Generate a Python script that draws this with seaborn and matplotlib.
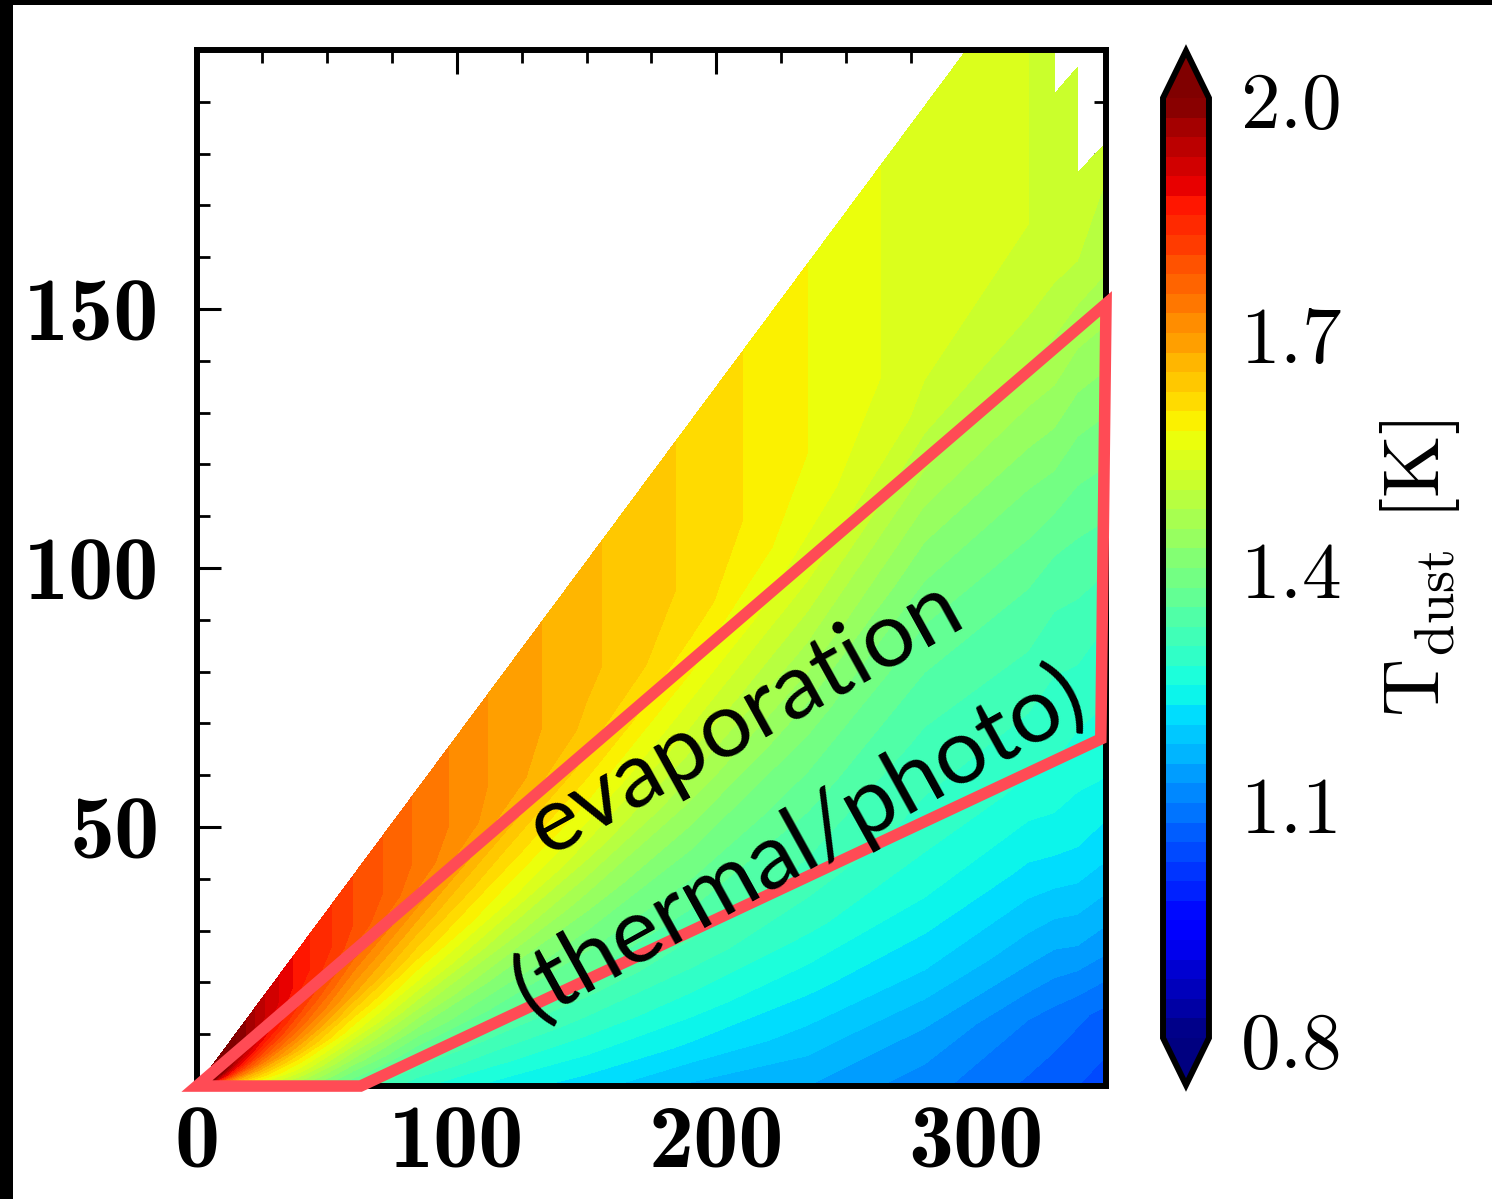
import numpy as np
import matplotlib
matplotlib.use("Agg")
import matplotlib.pyplot as plt
import seaborn as sns
from matplotlib.patches import Polygon, Rectangle
from matplotlib.ticker import MultipleLocator, FixedLocator, FuncFormatter

# ---- model grid: cylindrical radius R and opening z/R ----
R = [1, 4, 8, 15, 25, 40, 60, 85, 115, 150, 190, 235, 280, 320, 330, 339, 348, 360]
ZR = [0.0, 0.04, 0.08, 0.13, 0.18, 0.24, 0.30, 0.36, 0.42, 0.47, 0.52, 0.58, 0.63, 0.675]

nan = np.nan
# log10 dust temperature, one list per R column, z/R increasing
T_COLUMNS = [
    [2.05, 2.08, 2.10, 2.12, 2.14, 2.15, 2.15, 2.15, 2.15, 2.15, 2.15, 2.15, 2.15, 2.15],
    [1.75, 1.85, 1.95, 2.03, 2.08, 2.10, 2.10, 2.10, 2.10, 2.10, 2.10, 2.10, 2.10, 2.10],
    [1.62, 1.70, 1.78, 1.86, 1.93, 1.99, 2.03, 2.05, 2.06, 2.06, 2.06, 2.06, 2.06, 2.06],
    [1.57, 1.62, 1.68, 1.75, 1.82, 1.88, 1.93, 1.96, 1.98, 1.99, 2.00, 2.00, 2.00, 2.00],
    [1.52, 1.56, 1.61, 1.67, 1.73, 1.79, 1.84, 1.88, 1.90, 1.92, 1.93, 1.93, 1.93, 1.93],
    [1.44, 1.49, 1.54, 1.59, 1.65, 1.71, 1.76, 1.80, 1.83, 1.85, 1.86, 1.86, 1.86, 1.86],
    [1.35, 1.39, 1.44, 1.50, 1.56, 1.62, 1.68, 1.72, 1.76, 1.79, 1.80, 1.80, 1.80, 1.80],
    [1.28, 1.32, 1.36, 1.42, 1.48, 1.55, 1.61, 1.66, 1.71, 1.735, 1.745, 1.745, 1.745, 1.745],
    [1.24, 1.28, 1.32, 1.37, 1.42, 1.49, 1.56, 1.61, 1.66, 1.69, 1.695, 1.695, 1.695, 1.695],
    [1.21, 1.25, 1.29, 1.34, 1.38, 1.44, 1.51, 1.57, 1.62, 1.645, 1.655, 1.655, 1.655, 1.655],
    [1.17, 1.22, 1.26, 1.31, 1.35, 1.40, 1.46, 1.52, 1.575, 1.61, 1.62, 1.62, 1.62, 1.62],
    [1.15, 1.19, 1.23, 1.28, 1.32, 1.36, 1.41, 1.47, 1.53, 1.56, 1.575, 1.575, 1.575, 1.575],
    [1.11, 1.15, 1.20, 1.25, 1.29, 1.32, 1.36, 1.41, 1.47, 1.52, 1.535, 1.535, 1.535, 1.535],
    [1.07, 1.10, 1.16, 1.22, 1.27, 1.31, 1.35, 1.40, 1.46, 1.505, 1.525, 1.525, 1.525, 1.525],
    [1.06, 1.09, 1.15, 1.22, 1.27, 1.30, 1.34, 1.40, 1.46, 1.50, 1.515, 1.515, 1.515, 1.515],
    [1.05, 1.08, 1.15, 1.22, 1.26, 1.30, 1.34, 1.39, 1.45, 1.50, 1.51, 1.51, nan, nan],
    [1.04, 1.07, 1.14, 1.21, 1.26, 1.29, 1.34, 1.39, 1.45, 1.495, 1.505, nan, nan, nan],
    [1.03, 1.06, 1.13, 1.21, 1.25, 1.29, 1.33, 1.38, 1.44, 1.49, 1.50, nan, nan, nan],
]

# outline of the evaporation region (R, z)
ZONE_R = [0, 63, 348, 350]
ZONE_Z = [0, 0, 67, 151]

CBAR_TICKS = [0.8, 1.1, 1.4, 1.7, 2.0]
X_TICKS = [0, 100, 200, 300]
Y_TICKS = [50, 100, 150]
ZONE_TEXT = ["evaporation", "(thermal/photo)"]

# ---- style ----
sns.set_style("white")
plt.rcParams["mathtext.fontset"] = "cm"
plt.rcParams["font.family"] = ["DejaVu Sans"]
plt.rcParams["axes.edgecolor"] = "black"
plt.rcParams["text.color"] = "black"
plt.rcParams["axes.labelcolor"] = "black"
plt.rcParams["xtick.color"] = "black"
plt.rcParams["ytick.color"] = "black"

cmap = matplotlib.colormaps["jet"]
levels = np.linspace(0.8, 2.0, 49)

fig = plt.figure(figsize=(14.92, 11.99), dpi=100)
ax = fig.add_axes([0.1320, 0.0942, 0.6093, 0.8641])

Rg, ZRg = np.meshgrid(np.array(R, float), np.array(ZR, float))
Zg = Rg * ZRg
T = np.ma.masked_invalid(np.array(T_COLUMNS, float).T)

cf = ax.contourf(Rg, Zg, T, levels=levels, cmap=cmap, extend="both",
                 corner_mask=False, antialiased=False)

ax.set_xlim(0, 350)
ax.set_ylim(0, 200)

# evaporation zone outline
zone = Polygon(np.column_stack([ZONE_R, ZONE_Z]), closed=True, fill=False,
               edgecolor="#ff4b55", linewidth=8.3, joinstyle="miter",
               clip_on=False, zorder=5)
ax.add_patch(zone)

text_kw = dict(rotation=29, rotation_mode="anchor", ha="center", va="center",
               fontsize=66, family=["Lato", "DejaVu Sans"], color="black",
               zorder=6)
ax.text(211, 71, ZONE_TEXT[0], **text_kw)
ax.text(232, 47, ZONE_TEXT[1], **text_kw)

# axes frame and ticks
for sp in ax.spines.values():
    sp.set_linewidth(4.3)
    sp.set_color("black")

ax.xaxis.set_major_locator(FixedLocator(X_TICKS))
ax.xaxis.set_minor_locator(MultipleLocator(25))
ax.yaxis.set_major_locator(FixedLocator(Y_TICKS))
ax.yaxis.set_minor_locator(MultipleLocator(10))
ax.tick_params(which="both", direction="in", top=True, right=True,
               bottom=True, left=True, colors="black")
ax.tick_params(which="major", length=17, width=2.2, labelsize=65,
               labelfontfamily="cmb10")
ax.tick_params(which="minor", length=9, width=2.0)
ax.tick_params(axis="x", which="major", pad=13)
ax.tick_params(axis="y", which="major", pad=27)

# colour bar
cax = fig.add_axes([0.7795, 0.0951, 0.0308, 0.8624])
cb = fig.colorbar(cf, cax=cax, ticks=CBAR_TICKS)
cb.outline.set_linewidth(4.3)
cb.outline.set_edgecolor("black")
cb.ax.yaxis.set_major_formatter(FuncFormatter(lambda v, p: r"$%.1f$" % v))
cb.ax.yaxis.set_minor_locator(FixedLocator([]))
cb.ax.tick_params(which="major", direction="in", length=16, width=2.0,
                  labelsize=57, pad=22, colors="black")
cb.set_label(r"$\mathrm{T_{dust}}\ [\mathrm{K}]$", fontsize=58, labelpad=26,
             color="black")

# black frame strips along the top and left edges of the figure
fig.add_artist(Rectangle((0, 1 - 5 / 1199), 1, 5 / 1199, transform=fig.transFigure,
                         facecolor="black", edgecolor="none", zorder=20))
fig.add_artist(Rectangle((0, 0), 13 / 1492, 1, transform=fig.transFigure,
                         facecolor="black", edgecolor="none", zorder=20))

fig.savefig("out.png", dpi=100, facecolor="white")
